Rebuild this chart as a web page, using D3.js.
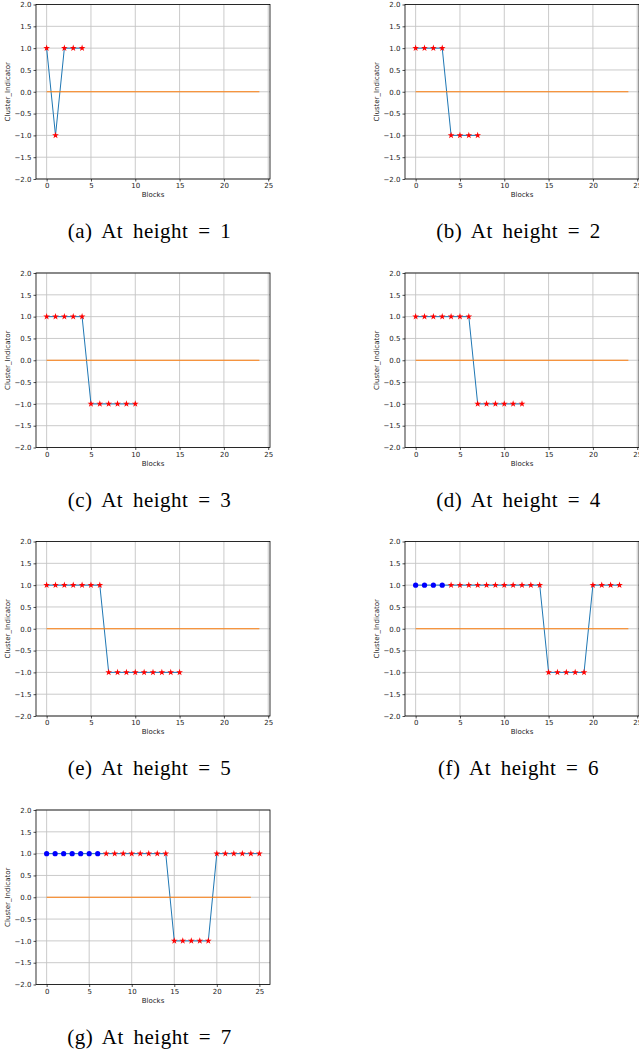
<!DOCTYPE html>
<html>
<head>
<meta charset="utf-8">
<script src="https://cdn.jsdelivr.net/npm/d3@7"></script>
<style>
  body { margin: 0; background: #fff; }
  svg { display: block; }
  .tick text { font-family: "DejaVu Sans", sans-serif; font-size: 7px; fill: #222; }
  .lbl { font-family: "DejaVu Sans", sans-serif; font-size: 7px; fill: #222; }
  .cap { font-family: "Liberation Serif", "Times New Roman", serif; font-size: 21px; fill: #000;
         letter-spacing: 0.5px; word-spacing: 4px; }
</style>
</head>
<body>
<script>
// Cluster indicator per block, one array per height
const valuesH1 = [1, -1, 1, 1, 1];
const valuesH2 = [1, 1, 1, 1, -1, -1, -1, -1];
const valuesH3 = [1, 1, 1, 1, 1, -1, -1, -1, -1, -1, -1];
const valuesH4 = [1, 1, 1, 1, 1, 1, 1, -1, -1, -1, -1, -1, -1];
const valuesH5 = [1, 1, 1, 1, 1, 1, 1, -1, -1, -1, -1, -1, -1, -1, -1, -1];
const valuesH6 = [1, 1, 1, 1, 1, 1, 1, 1, 1, 1, 1, 1, 1, 1, 1, -1, -1, -1, -1, -1, 1, 1, 1, 1];
const valuesH7 = [1, 1, 1, 1, 1, 1, 1, 1, 1, 1, 1, 1, 1, 1, 1, -1, -1, -1, -1, -1, 1, 1, 1, 1, 1, 1];

// leading blocks drawn as blue dots
const blueCounts = [0, 0, 0, 0, 0, 4, 7];
const series = [valuesH1, valuesH2, valuesH3, valuesH4, valuesH5, valuesH6, valuesH7];
const captions = ['(a) At height = 1', '(b) At height = 2', '(c) At height = 3', '(d) At height = 4',
                  '(e) At height = 5', '(f) At height = 6', '(g) At height = 7'];

const zeroLineX = [0, 24];
const xTicks = [0, 5, 10, 15, 20, 25];
const yTicks = [-2, -1.5, -1, -0.5, 0, 0.5, 1, 1.5, 2];

const W = 639, H = 1053;
const colLeft = [36, 405], rowTop = [4.5, 273, 541.5, 810];
const aw = 234, ah = 174.5;

const svg = d3.select('body').append('svg').attr('width', W).attr('height', H);

series.forEach((vals, i) => {
  const left = colLeft[i % 2], top = rowTop[Math.floor(i / 2)];
  const g = svg.append('g').attr('transform', `translate(${left},${top})`);

  const xmax = Math.max(vals.length - 1, zeroLineX[1]);
  const pad = xmax * 0.05;
  const x = d3.scaleLinear().domain([-pad, xmax + pad]).range([0, aw]);
  const y = d3.scaleLinear().domain([-2, 2]).range([ah, 0]);

  // grid
  g.append('g').selectAll('line').data(xTicks.filter(t => x(t) <= aw + 0.1)).join('line')
      .attr('x1', d => x(d)).attr('x2', d => x(d)).attr('y1', 0).attr('y2', ah)
      .attr('stroke', '#c4c4c4').attr('stroke-width', 0.9);
  g.append('g').selectAll('line').data(yTicks).join('line')
      .attr('x1', 0).attr('x2', aw).attr('y1', d => y(d)).attr('y2', d => y(d))
      .attr('stroke', '#c4c4c4').attr('stroke-width', 0.9);

  const pts = vals.map((v, k) => [k, v]);
  const line = d3.line().x(d => x(d[0])).y(d => y(d[1]));

  g.append('path').datum(pts).attr('d', line)
      .attr('fill', 'none').attr('stroke', '#1f77b4').attr('stroke-width', 1);

  g.append('path').datum(zeroLineX.map(v => [v, 0])).attr('d', line)
      .attr('fill', 'none').attr('stroke', '#ff7f0e').attr('stroke-width', 1);

  const nb = blueCounts[i];
  g.append('g').selectAll('path').data(pts.slice(nb)).join('path')
      .attr('transform', d => `translate(${x(d[0])},${y(d[1])})`)
      .attr('d', d3.symbol(d3.symbolStar, 14))
      .attr('fill', 'red');
  g.append('g').selectAll('circle').data(pts.slice(0, nb)).join('circle')
      .attr('cx', d => x(d[0])).attr('cy', d => y(d[1])).attr('r', 2.6)
      .attr('fill', 'blue');

  // axes
  const xa = g.append('g').attr('transform', `translate(0,${ah})`)
      .call(d3.axisBottom(x).tickValues(xTicks).tickSize(2.5).tickPadding(2).tickFormat(d3.format('d')));
  const ya = g.append('g')
      .call(d3.axisLeft(y).tickValues(yTicks).tickSize(2.5).tickPadding(2).tickFormat(d => d3.format('.1f')(d).replace('-', '\u2212')));
  [xa, ya].forEach(a => {
    a.select('.domain').remove();
    a.selectAll('.tick line').attr('stroke', '#000').attr('stroke-width', 0.7);
  });

  g.append('rect').attr('width', aw).attr('height', ah)
      .attr('fill', 'none').attr('stroke', '#000').attr('stroke-width', 0.8);

  g.append('text').attr('class', 'lbl').attr('x', aw / 2).attr('y', ah + 18)
      .attr('text-anchor', 'middle').text('Blocks');
  g.append('text').attr('class', 'lbl')
      .attr('transform', `translate(${-26},${ah / 2}) rotate(-90)`)
      .attr('text-anchor', 'middle').text('Cluster_Indicator');

  svg.append('text').attr('class', 'cap')
      .attr('x', left + 113.5).attr('y', top + 233.5)
      .attr('text-anchor', 'middle').text(captions[i]);
});
</script>
</body>
</html>
